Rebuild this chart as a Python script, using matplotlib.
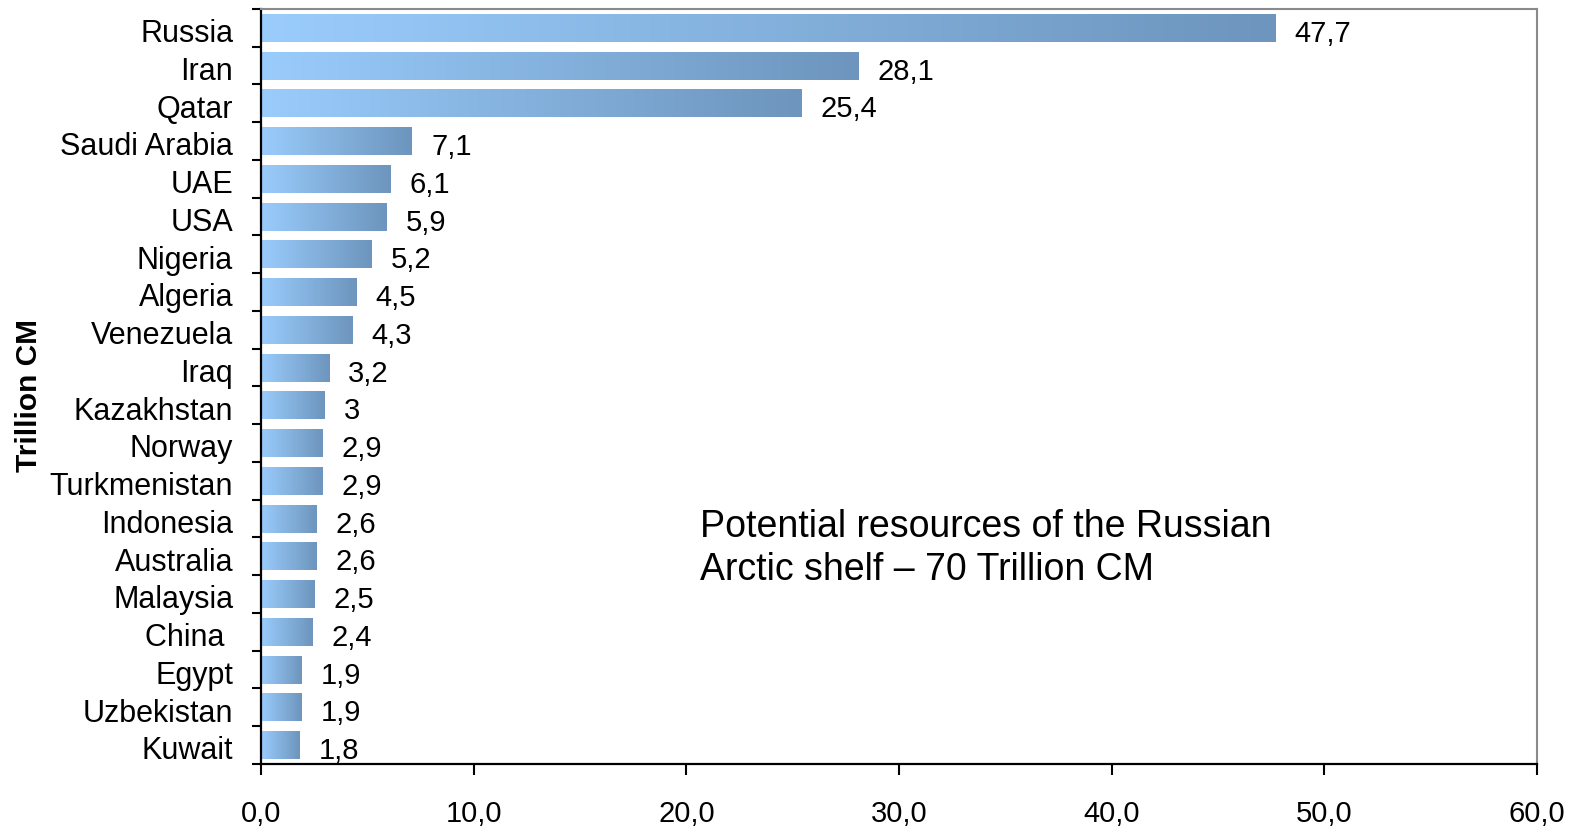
import numpy as np
import matplotlib
matplotlib.use('Agg')
import matplotlib.pyplot as plt
import matplotlib.transforms as mtransforms
from matplotlib.colors import LinearSegmentedColormap
from matplotlib.ticker import FixedLocator, NullFormatter

# ---- data ----
countries = ["Russia", "Iran", "Qatar", "Saudi Arabia", "UAE", "USA", "Nigeria",
             "Algeria", "Venezuela", "Iraq", "Kazakhstan", "Norway", "Turkmenistan",
             "Indonesia", "Australia", "Malaysia", "China ", "Egypt", "Uzbekistan",
             "Kuwait"]
reserves = [47.7, 28.1, 25.4, 7.1, 6.1, 5.9, 5.2, 4.5, 4.3, 3.2, 3, 2.9, 2.9,
            2.6, 2.6, 2.5, 2.4, 1.9, 1.9, 1.8]
x_ticks = [0, 10, 20, 30, 40, 50, 60]
y_label = "Trillion CM"
note_lines = ["Potential resources of the Russian", "Arctic shelf \u2013 70 Trillion CM"]

plt.rcParams['font.family'] = ['Liberation Sans', 'DejaVu Sans']

W, H = 1585, 831
fig = plt.figure(figsize=(W / 100, H / 100), dpi=100)
L, R, T, B = 261, 1537, 9, 764
ax = fig.add_axes([L / W, 1 - B / H, (R - L) / W, (B - T) / H])

cmap = LinearSegmentedColormap.from_list('g', ['#9ACCFC', '#6D95BD'])
grad = np.linspace(0, 1, 256).reshape(1, -1)

ypos = np.arange(len(countries))
bars = ax.barh(ypos, reserves, height=0.74, color='none', edgecolor='none')
for bar, v in zip(bars, reserves):
    x0, w = bar.get_x(), bar.get_width()
    y0, h = bar.get_y(), bar.get_height()
    ax.imshow(grad, extent=[x0, x0 + w, y0 + h, y0], aspect='auto', cmap=cmap,
              interpolation='bilinear', zorder=2)
    lbl = f"{v:g}".replace('.', ',')
    ax.annotate(lbl, xy=(x0 + w, y0 + h / 2), xytext=(13.7, -10),
                textcoords='offset points', ha='left', va='baseline', fontsize=21)

ax.set_xlim(0, 60)
ax.set_ylim(len(countries) - 0.5, -0.5)
ax.set_aspect('auto')

ax.set_xticks(x_ticks)
ax.set_xticklabels([f"{t:.1f}".replace('.', ',') for t in x_ticks])
ax.tick_params(axis='x', direction='out', length=8, width=1.5, pad=18, labelsize=21)

ax.set_yticks(ypos)
ax.set_yticklabels(countries)
ax.tick_params(axis='y', which='major', length=0, pad=20, labelsize=22)
ax.yaxis.set_minor_locator(FixedLocator(np.arange(-0.5, len(countries), 1.0)))
ax.yaxis.set_minor_formatter(NullFormatter())
ax.tick_params(axis='y', which='minor', direction='out', length=6.5, width=1.5)
shift = mtransforms.ScaledTranslation(0, -2 / 72, fig.dpi_scale_trans)
for lab in ax.get_yticklabels():
    lab.set_transform(lab.get_transform() + shift)

for s in ['left', 'bottom']:
    ax.spines[s].set_color('black')
    ax.spines[s].set_linewidth(1.6)
for s in ['top', 'right']:
    ax.spines[s].set_color('#8a8a8a')
    ax.spines[s].set_linewidth(1.5)

fig.text(29 / W, 1 - 395 / H, y_label, rotation=90, ha='center', va='center',
         fontsize=21.5, fontweight='bold')

ax.text((700 - L) / (R - L), (B - 537) / (B - T), note_lines[0], transform=ax.transAxes,
        ha='left', va='baseline', fontsize=27)
ax.text((700 - L) / (R - L), (B - 580) / (B - T), note_lines[1], transform=ax.transAxes,
        ha='left', va='baseline', fontsize=27)

fig.savefig('out.png', dpi=100)
